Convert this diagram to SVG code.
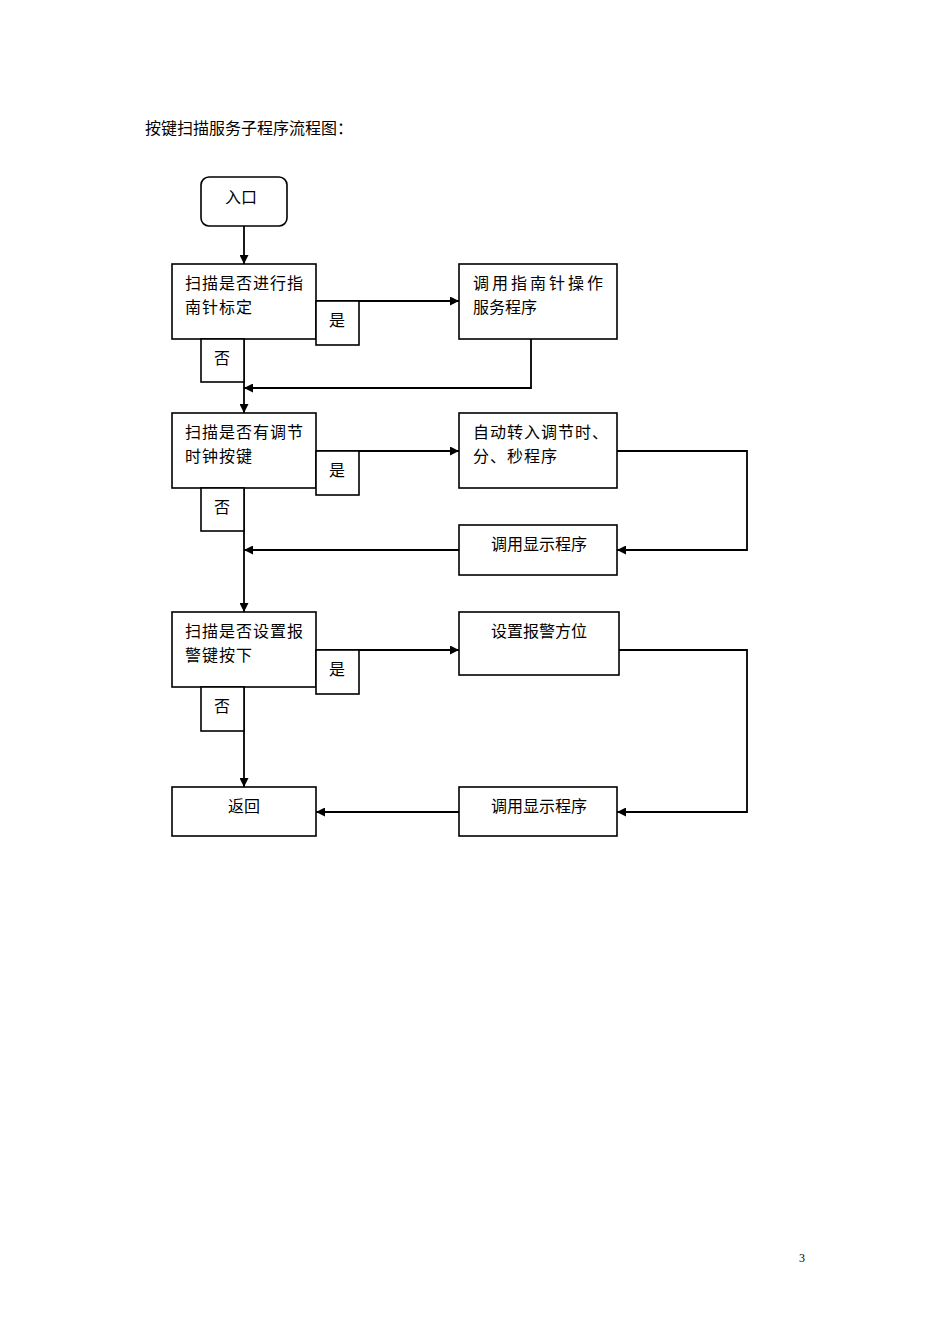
<svg xmlns="http://www.w3.org/2000/svg" width="950" height="1344" viewBox="0 0 950 1344">
<defs>
<style>
text{font-family:"Noto Sans CJK SC","Liberation Serif",serif;font-size:16px;fill:#000}
.b{fill:#fff;stroke:#000;stroke-width:1.6}
.l{fill:none;stroke:#000;stroke-width:1.8}
.c{text-anchor:middle}
</style>
<marker id="a" viewBox="0 0 10 10" refX="10" refY="5" markerWidth="10" markerHeight="9" orient="auto" markerUnits="userSpaceOnUse"><path d="M0,0L10,5L0,10z" fill="#000"/></marker>
</defs>
<rect width="950" height="1344" fill="#fff"/>
<text x="145" y="134">按键扫描服务子程序流程图：</text>
<g id="connectors">
<path class="l" d="M244,226V264" marker-end="url(#a)"/>
<path class="l" d="M316,301H459" marker-end="url(#a)"/>
<path class="l" d="M531,339V388H244" marker-end="url(#a)"/>
<path class="l" d="M244,339V413" marker-end="url(#a)"/>
<path class="l" d="M316,451H459" marker-end="url(#a)"/>
<path class="l" d="M617,451H747V550H617" marker-end="url(#a)"/>
<path class="l" d="M459,550H244" marker-end="url(#a)"/>
<path class="l" d="M244,488V612" marker-end="url(#a)"/>
<path class="l" d="M316,650H459" marker-end="url(#a)"/>
<path class="l" d="M619,650H747V812H617" marker-end="url(#a)"/>
<path class="l" d="M459,812H316" marker-end="url(#a)"/>
<path class="l" d="M244,687V787" marker-end="url(#a)"/>
</g>
<g id="entry"><rect class="b" x="201" y="177" width="86" height="49" rx="8"/><text class="c" x="241" y="203">入口</text></g>
<g id="q1"><rect class="b" x="172" y="264" width="144" height="75"/><text x="185" y="289" letter-spacing="1">扫描是否进行指</text><text x="185" y="313" letter-spacing="1">南针标定</text></g>
<g id="yes1"><rect class="b" x="316" y="301" width="43" height="44"/><text class="c" x="337" y="326">是</text></g>
<g id="no1"><rect class="b" x="201" y="339" width="43" height="43"/><text class="c" x="222" y="364">否</text></g>
<g id="p1"><rect class="b" x="459" y="264" width="158" height="75"/><text x="473" y="289" letter-spacing="3">调用指南针操作</text><text x="473" y="313">服务程序</text></g>
<g id="q2"><rect class="b" x="172" y="413" width="144" height="75"/><text x="185" y="438" letter-spacing="1">扫描是否有调节</text><text x="185" y="462" letter-spacing="1">时钟按键</text></g>
<g id="yes2"><rect class="b" x="316" y="451" width="43" height="44"/><text class="c" x="337" y="476">是</text></g>
<g id="no2"><rect class="b" x="201" y="488" width="43" height="43"/><text class="c" x="222" y="513">否</text></g>
<g id="p2"><rect class="b" x="459" y="413" width="158" height="75"/><text x="473" y="438" letter-spacing="1">自动转入调节时、</text><text x="473" y="462" letter-spacing="1">分、秒程序</text></g>
<g id="p3"><rect class="b" x="459" y="525" width="158" height="50"/><text class="c" x="539" y="550">调用显示程序</text></g>
<g id="q3"><rect class="b" x="172" y="612" width="144" height="75"/><text x="185" y="637" letter-spacing="1">扫描是否设置报</text><text x="185" y="661" letter-spacing="1">警键按下</text></g>
<g id="yes3"><rect class="b" x="316" y="650" width="43" height="44"/><text class="c" x="337" y="675">是</text></g>
<g id="no3"><rect class="b" x="201" y="687" width="43" height="44"/><text class="c" x="222" y="712">否</text></g>
<g id="p4"><rect class="b" x="459" y="612" width="160" height="63"/><text class="c" x="539" y="637">设置报警方位</text></g>
<g id="p5"><rect class="b" x="459" y="787" width="158" height="49"/><text class="c" x="539" y="812">调用显示程序</text></g>
<g id="ret"><rect class="b" x="172" y="787" width="144" height="49"/><text class="c" x="244" y="812">返回</text></g>
<text x="799" y="1262" style="font-family:'Liberation Serif',serif;font-size:12px">3</text>
</svg>
